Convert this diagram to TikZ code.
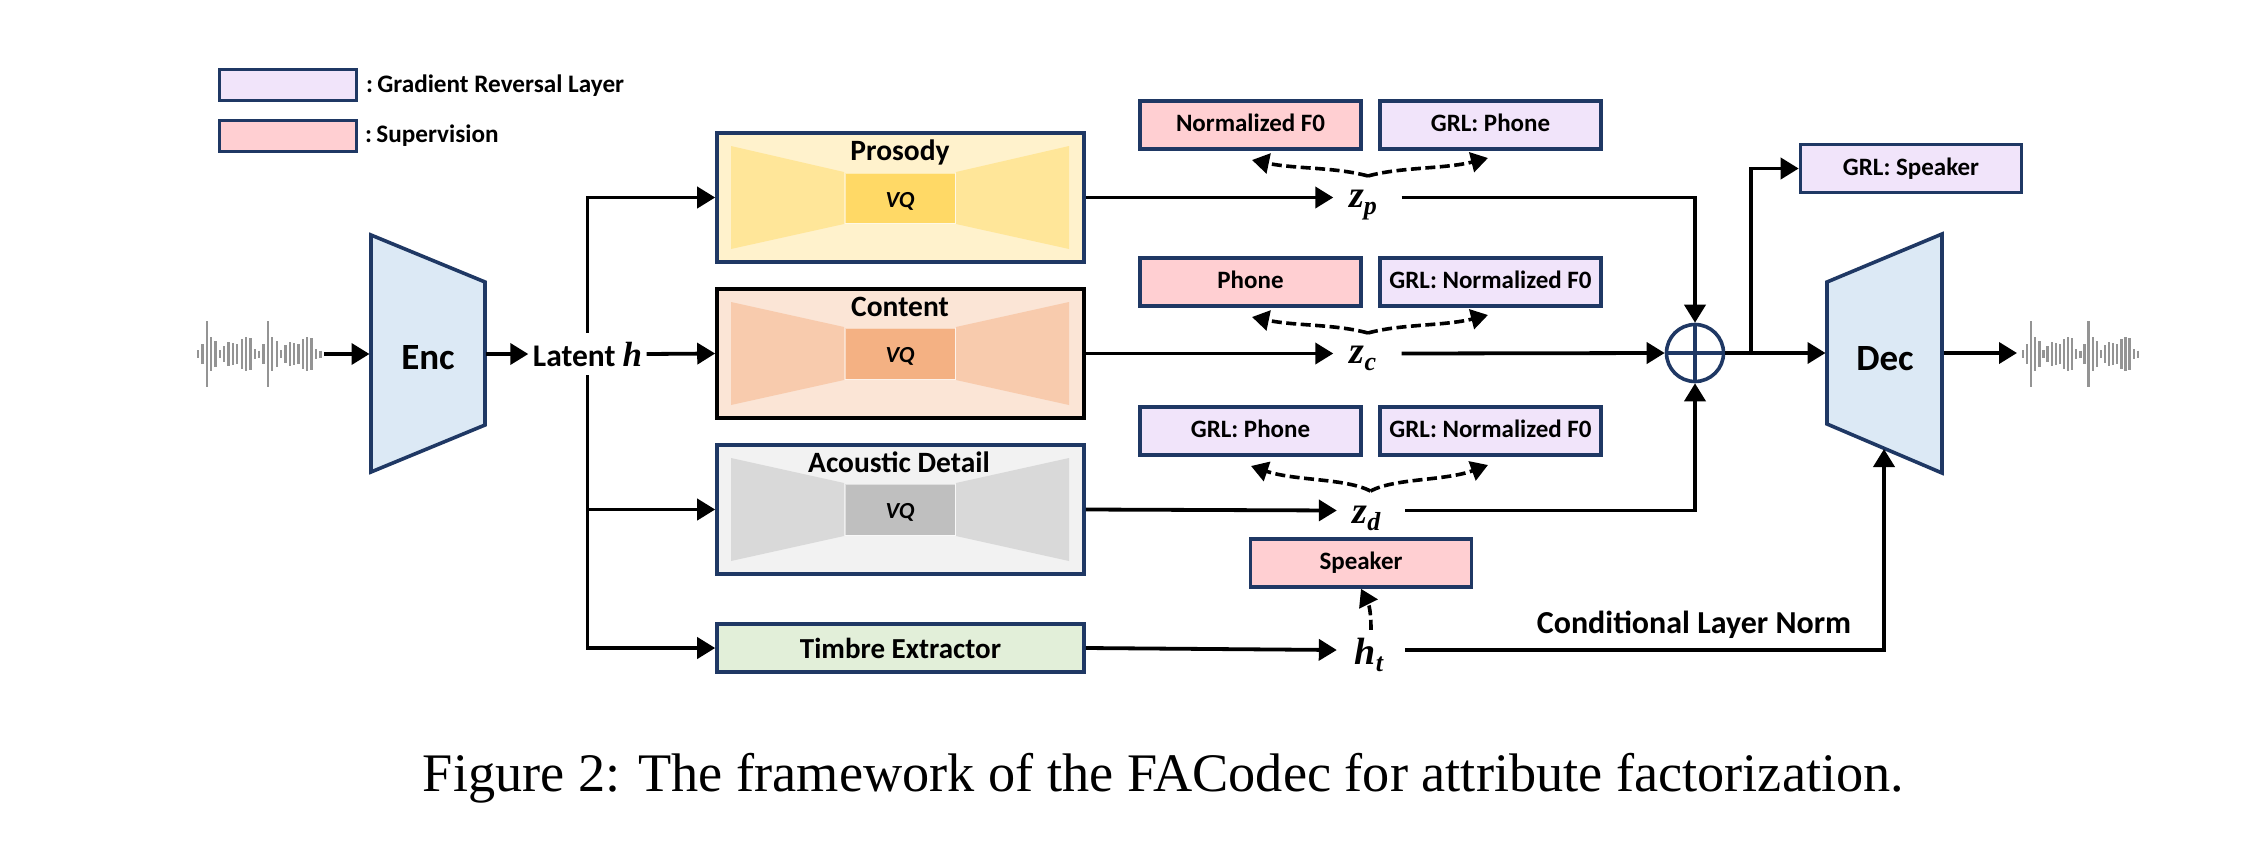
\documentclass[tikz,border=0pt]{standalone}
\usepackage{fontspec}
\setmainfont{Carlito}
\newfontfamily\capfont{Liberation Serif}
\newfontfamily\symfont{Liberation Serif}[BoldItalicFont={Liberation Serif Bold Italic}]
\usetikzlibrary{arrows.meta}
\definecolor{navy}{HTML}{1F3864}
\definecolor{grlc}{HTML}{F1E4FA}
\definecolor{supc}{HTML}{FFCFD2}
\definecolor{encc}{HTML}{DCE9F5}
\definecolor{timc}{HTML}{E2EFD9}
\definecolor{proA}{HTML}{FFF2CC}\definecolor{proB}{HTML}{FFE699}\definecolor{proC}{HTML}{FFD966}
\definecolor{conA}{HTML}{FBE5D6}\definecolor{conB}{HTML}{F8CBAD}\definecolor{conC}{HTML}{F4B183}
\definecolor{acoA}{HTML}{F2F2F2}\definecolor{acoB}{HTML}{D9D9D9}\definecolor{acoC}{HTML}{BFBFBF}
\newcommand{\symvar}[3]{\hspace*{#3}{\symfont\bfseries\itshape\fontsize{38}{38}\selectfont #1\raisebox{-7pt}{\fontsize{26}{26}\selectfont #2}}}
\newcommand{\wavebars}[2]{%
  \foreach \n/\h in {0/4,1/10,2/33,3/17,4/13,5/4,6/8,7/12,8/11,9/10,10/15,11/17,12/16,13/5,14/3.5,15/10,16/33,17/17,18/13,19/4,20/9,21/12,22/11,23/10,24/15,25/17,26/16,27/5,28/3.5}
    \draw[wavebar] ({#1+\n*#2},{354-\h}) -- ({#1+\n*#2},{354+\h});}
\newcommand{\vqshape}[7]{% ytop-outer, y-inner-top, y-inner-bottom, y-outer-bottom, colours
  \fill[#5] (731,#1) -- (844,#2) -- (844,#3) -- (731,#4) -- cycle;
  \fill[#5] (1069,#1) -- (956,#2) -- (956,#3) -- (1069,#4) -- cycle;
  \filldraw[fill=#6,draw=white,draw opacity=.5,line width=.8pt] (845,{#2+1}) rectangle (955,{#3-1});
  \node[vqlabel] (#7) at (900,{(#2+#3)/2+3}) {VQ};}
\tikzset{
  x=1pt,y=-1pt,
  wavebar/.style={draw=black!42,line width=2.3pt},
  flow/.style={draw=black,line width=3.8pt,-{Triangle[length=18pt,width=21pt]}},
  dashflow/.style={draw=black,line width=3.6pt,dash pattern=on 10pt off 4.5pt,-{Triangle[length=17pt,width=20pt]}},
  basebox/.style={draw=navy,line width=3.6pt,inner sep=0pt,font=\fontsize{25}{25}\bfseries},
  grlbox/.style={basebox,fill=grlc,minimum width=221,minimum height=48},
  supbox/.style={basebox,fill=supc,minimum width=221,minimum height=48},
  legendbox/.style={basebox,minimum width=137,minimum height=31},
  legendtxt/.style={inner sep=0pt,anchor=west,font=\fontsize{25.2}{25.2}\bfseries},
  bigbox/.style={draw=navy,line width=3.6pt,inner sep=0pt,minimum width=367,minimum height=129},
  titletxt/.style={inner sep=0pt,font=\fontsize{29.5}{29.5}\bfseries},
  vqlabel/.style={inner sep=0pt,font=\fontsize{23}{23}\bfseries\itshape},
  coder/.style={draw=navy,line width=3.6pt,fill=encc,line join=miter},
  codertxt/.style={inner sep=0pt,font=\fontsize{37}{37}\bfseries},
  varnode/.style={inner sep=0pt,minimum width=68,minimum height=44},
}
\begin{document}
\begin{tikzpicture}
\useasboundingbox (0,0) rectangle (2262,844);
\fill[white] (0,0) rectangle (2262,844);

% legend
\node[legendbox,fill=grlc] (leg1) at (288,85) {};
\node[legendbox,fill=supc] (leg2) at (288,136) {};
\node[legendtxt] (leg1t) at (366,85.5) {:\,Gradient Reversal Layer};
\node[legendtxt] (leg2t) at (365,135.5) {:\,Supervision};

% waveforms
\wavebars{198}{4.37}
\wavebars{2023}{4.1}

% encoder / decoder
\coordinate (encL) at (369.5,354);
\coordinate (encR) at (486,354);
\draw[coder] (371,235) -- (485,282) -- (485,425) -- (371,472) -- cycle;
\node[codertxt] (enc) at (428,358) {Enc};
\coordinate (decL) at (1825.5,353);
\coordinate (decR) at (1943.5,353);
\coordinate (decB) at (1884,449);
\draw[coder] (1827,282) -- (1942,234) -- (1942,473) -- (1827,424) -- cycle;
\node[codertxt] (dec) at (1885,359) {Dec};
\coordinate (waveIn) at (324,354);
\coordinate (waveOut) at (2017,353);

% latent
\node[inner sep=0pt,minimum width=118,minimum height=42,font=\fontsize{31.5}{31.5}\bfseries] (latent) at (587.5,354) {\raisebox{-3pt}{Latent {\symfont\bfseries\itshape\fontsize{35}{35}\selectfont h}}};

% big boxes
\node[bigbox,fill=proA] (prosody) at (900.5,197.5) {};
\vqshape{146}{172}{224}{249}{proB}{proC}{vqP}
\node[titletxt] (prosodyt) at (900,152) {Prosody};
\node[bigbox,fill=conA,draw=black] (content) at (900.5,353.5) {};
\vqshape{302}{327}{380}{405}{conB}{conC}{vqC}
\node[titletxt] (contentt) at (900,307) {Content};
\node[bigbox,fill=acoA] (acoustic) at (900.5,509.5) {};
\vqshape{458}{483}{536}{561}{acoB}{acoC}{vqD}
\node[titletxt] (acoustict) at (899,462) {Acoustic Detail};
\node[bigbox,fill=timc,minimum height=48,font=\fontsize{29}{29}\bfseries] (timbre) at (900.5,648) {Timbre Extractor};

% variables
\node[varnode] (zp) at (1367.5,205) {\symvar{z}{p}{-9pt}};
\node[varnode] (zc) at (1367.5,358) {\symvar{z}{c}{-9pt}};
\node[varnode] (zd) at (1371,518) {\symvar{z}{d}{-9pt}};
\node[varnode,minimum height=50] (ht) at (1371,655) {\symvar{h}{t}{-4pt}};

% attribute boxes
\node[supbox] (f0a) at (1250.5,125) {\raisebox{5pt}{Normalized F0}};
\node[grlbox] (pha) at (1490.5,125) {\raisebox{5pt}{GRL: Phone}};
\node[supbox] (phb) at (1250.5,282) {\raisebox{5pt}{Phone}};
\node[grlbox] (f0b) at (1490.5,282) {\raisebox{5pt}{GRL: Normalized F0}};
\node[grlbox] (phc) at (1250.5,431) {\raisebox{5pt}{GRL: Phone}};
\node[grlbox] (f0c) at (1490.5,431) {\raisebox{5pt}{GRL: Normalized F0}};
\node[supbox] (spk) at (1361,563) {\raisebox{5pt}{Speaker}};
\node[grlbox] (grlspk) at (1911,168.5) {\raisebox{4pt}{GRL: Speaker}};

% sum
\node[draw=navy,line width=3.6pt,circle,inner sep=0pt,minimum size=57] (sum) at (1695,353) {};
\draw[draw=navy,line width=3.6pt] (sum.north) -- (sum.south) (sum.west) -- (sum.east);

% label
\node[inner sep=0pt,font=\fontsize{32}{32}\bfseries] (cln) at (1694,625) {Conditional Layer Norm};

% connectors
\coordinate (zdline) at (0,510.5);
\coordinate (htline) at (0,650);
\coordinate (branch) at (1751,353);
\draw[flow] (waveIn) -- (encL);
\draw[flow] (encR) -- (latent.west);
\draw[flow] (latent.north) |- (prosody.west);
\draw[flow] (latent.east) -- (content.west);
\draw[flow] (latent.south) |- (timbre.west);
\draw[flow] (latent.south |- acoustic.west) -- (acoustic.west);
\draw[flow] (prosody.east) -- (zp.west |- prosody.east);
\draw[flow] (content.east) -- (zc.west |- content.east);
\draw[flow] (acoustic.east) -- (zd.west |- zdline);
\draw[flow] (timbre.east) -- (ht.west |- htline);
\draw[flow] (zp.east |- prosody.east) -| (sum.north);
\draw[flow] (zc.east |- content.east) -- (sum.west);
\draw[flow] (zd.east |- zdline) -| (sum.south);
\draw[flow] (sum.east) -- (decL);
\draw[flow] (branch) |- (grlspk.west);
\draw[flow] (decR) -- (waveOut);
\draw[flow] (ht.east |- htline) -| (decB);

% dashed supervision arrows
\coordinate (forkP) at (1368,176);
\coordinate (forkC) at (1368,333);
\coordinate (forkD) at (1370.5,491);
\coordinate (tipPL) at (1252,160);
\coordinate (tipPR) at (1488,158);
\coordinate (tipCL) at (1252,317);
\coordinate (tipCR) at (1488,315);
\coordinate (tipDL) at (1251,466);
\coordinate (tipDR) at (1488,465);
\draw[dashflow] (forkP) .. controls (1335,167) and (1295,169) .. (tipPL);
\draw[dashflow] (forkP) .. controls (1400,167) and (1445,169) .. (tipPR);
\draw[dashflow] (forkC) .. controls (1335,324) and (1295,326) .. (tipCL);
\draw[dashflow] (forkC) .. controls (1400,324) and (1445,326) .. (tipCR);
\draw[dashflow] (forkD) .. controls (1345,478) and (1295,481) .. (tipDL);
\draw[dashflow] (forkD) .. controls (1395,478) and (1445,481) .. (tipDR);
\draw[dashflow] (ht.north) .. controls (1371,612) and (1369,605) .. (spk.south);

% caption
\node[inner sep=0pt,font=\capfont\fontsize{54.3}{54.3}\selectfont] (caption) at (1163.5,778) {Figure 2: The framework of the FACodec for attribute factorization.};
\end{tikzpicture}
\end{document}
